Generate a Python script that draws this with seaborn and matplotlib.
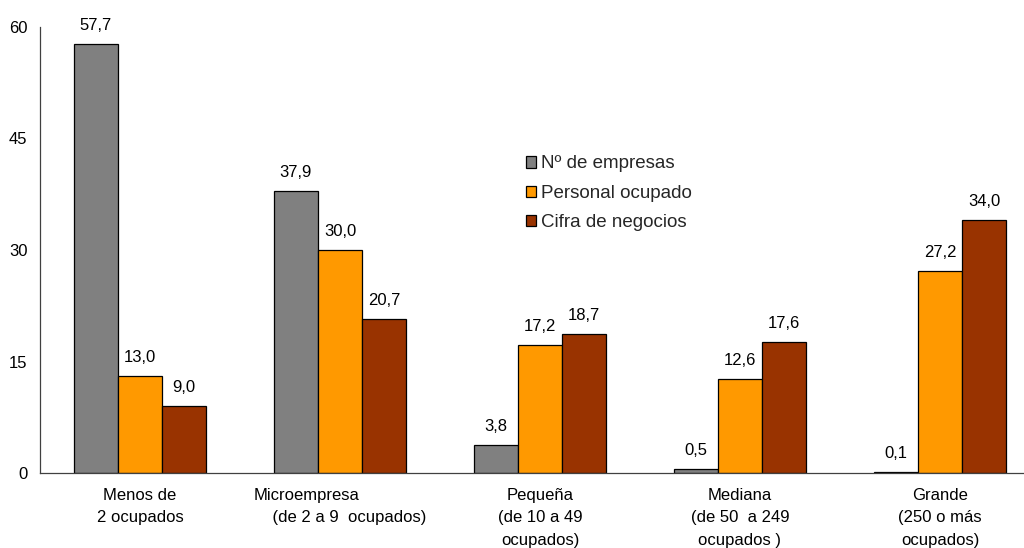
import numpy as np
import pandas as pd
import matplotlib
matplotlib.use("Agg")
import matplotlib.pyplot as plt
import seaborn as sns

categorias = [
    "Menos de\n2 ocupados",
    "Microempresa\n    (de 2 a 9  ocupados)",
    "Pequeña\n(de 10 a 49\nocupados)",
    "Mediana\n(de 50  a 249\nocupados )",
    "Grande\n(250 o más\nocupados)",
]
series = ["Nº de empresas", "Personal ocupado", "Cifra de negocios"]
empresas = [57.7, 37.9, 3.8, 0.5, 0.1]
personal = [13.0, 30.0, 17.2, 12.6, 27.2]
negocios = [9.0, 20.7, 18.7, 17.6, 34.0]
colores = ["#808080", "#FF9900", "#993300"]

df = pd.DataFrame({
    "categoria": categorias * 3,
    "serie": np.repeat(series, len(categorias)),
    "valor": empresas + personal + negocios,
})

sns.set_style("white")
plt.rcParams["font.family"] = ["Liberation Sans", "DejaVu Sans"]

fig = plt.figure(figsize=(10.24, 5.48), dpi=100)
ax = fig.add_axes([40 / 1024, 75 / 548, 1000 / 1024, 446 / 548])

sns.barplot(data=df, x="categoria", y="valor", hue="serie", order=categorias,
            hue_order=series, palette=colores, width=0.66, gap=0,
            edgecolor="black", linewidth=0.9, saturation=1, ax=ax)

for cont in ax.containers:
    ax.bar_label(cont, labels=[f"{v:.1f}".replace(".", ",") for v in cont.datavalues],
                 padding=8, fontsize=12, color="black")

ax.set_xlim(-0.5, 4.5)
ax.set_ylim(0, 60)
ax.set_yticks([0, 15, 30, 45, 60])
ax.set_xlabel("")
ax.set_ylabel("")
sns.despine(ax=ax)
for s in ["left", "bottom"]:
    ax.spines[s].set_color("#404040")
    ax.spines[s].set_linewidth(0.9)
ax.tick_params(axis="y", length=5, width=0.9, color="#404040", labelsize=12,
               labelcolor="black", pad=4)
ax.tick_params(axis="x", length=0, labelsize=12, labelcolor="black", pad=11)
for lab in ax.get_xticklabels():
    lab.set_multialignment("center")
    lab.set_linespacing(1.6)
ax.get_xticklabels()[1].set_multialignment("left")

ax.legend(loc="upper left", bbox_to_anchor=(518 / 1024, 1 - 148 / 548),
          bbox_transform=fig.transFigure, frameon=False, fontsize=13.5,
          handlelength=0.55, handleheight=0.55, handletextpad=0.3,
          labelspacing=0.66, borderaxespad=0)

fig.savefig("out.png", dpi=100)
